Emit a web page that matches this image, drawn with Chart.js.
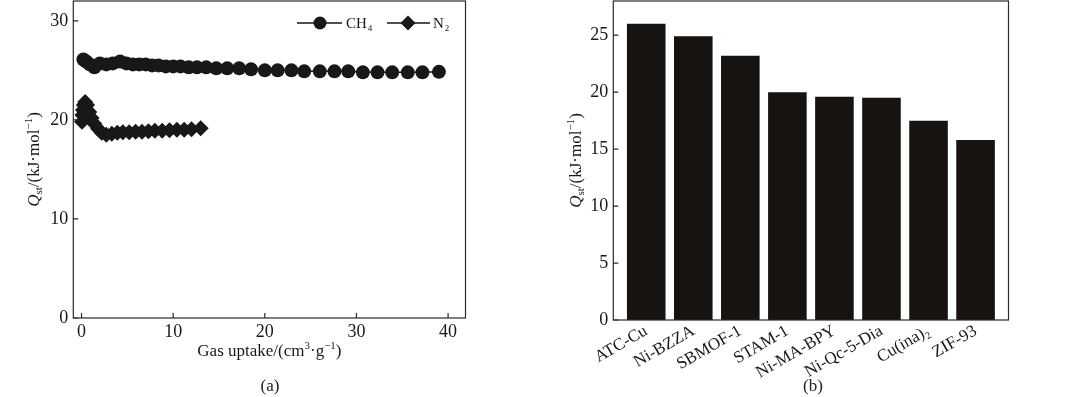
<!DOCTYPE html>
<html>
<head>
<meta charset="utf-8">
<script src="https://cdn.jsdelivr.net/npm/chart.js@4.4.0/dist/chart.umd.min.js"></script>
<style>
  body { margin: 0; background: #fff; }
  #wrap { position: relative; width: 1080px; height: 397px; overflow: hidden; }
  canvas { position: absolute; top: 0; }
  .cap { position: absolute; font: 17px 'Liberation Serif', 'Times New Roman', serif; color: #222; transform: translateX(-50%); }
</style>
</head>
<body>
<div id="wrap">
  <canvas id="chartA" width="540" height="397" style="left:0"></canvas>
  <canvas id="chartB" width="540" height="397" style="left:540px"></canvas>
  <div class="cap" style="left:270px; top:376px">(a)</div>
  <div class="cap" style="left:813px; top:376px">(b)</div>
</div>
<script>
// (a) isosteric heat vs gas uptake
const ch4X = [0.2, 0.5, 0.9, 1.4, 2.0, 2.7, 3.4, 4.2, 4.9, 5.6, 6.3, 7.0, 7.7, 8.4, 9.2, 10.0, 10.8, 11.7, 12.6, 13.6, 14.7, 15.9, 17.2, 18.5, 20.0, 21.4, 22.9, 24.3, 26.0, 27.6, 29.1, 30.7, 32.3, 33.9, 35.6, 37.2, 39.0];
const ch4Y = [26.1, 25.9, 25.6, 25.3, 25.7, 25.6, 25.7, 25.9, 25.7, 25.6, 25.6, 25.6, 25.5, 25.5, 25.4, 25.4, 25.4, 25.3, 25.3, 25.3, 25.2, 25.2, 25.2, 25.1, 25.0, 25.0, 25.0, 24.9, 24.9, 24.9, 24.9, 24.8, 24.8, 24.8, 24.8, 24.8, 24.85];
const n2X = [0.05, 0.1, 0.15, 0.25, 0.4, 0.6, 0.85, 1.1, 1.4, 1.8, 2.2, 2.7, 3.3, 3.9, 4.5, 5.2, 5.9, 6.6, 7.3, 8.0, 8.8, 9.6, 10.4, 11.2, 12.0, 13.0];
const n2Y = [19.8, 20.5, 21.0, 21.5, 21.8, 21.5, 20.8, 20.2, 19.6, 19.1, 18.7, 18.5, 18.6, 18.7, 18.75, 18.75, 18.8, 18.8, 18.85, 18.9, 18.9, 18.95, 19.0, 19.0, 19.05, 19.15];
const xTicksA = [0, 10, 20, 30, 40];
const yTicksA = [0, 10, 20, 30];

// (b) Qst of different MOFs
const mofs = ['ATC-Cu', 'Ni-BZZA', 'SBMOF-1', 'STAM-1', 'Ni-MA-BPY', 'Ni-Qc-5-Dia', 'Cu(ina)\u2082', 'ZIF-93'];
const qst = [26.0, 24.9, 23.2, 20.0, 19.6, 19.5, 17.5, 15.8];
const yTicksB = [0, 5, 10, 15, 20, 25];

const serif = "'Liberation Serif', 'Times New Roman', serif";
const ink = '#1a1816';

// draws text made of pieces: [text, kind] with kind '', 'i', 'sub', 'sup'
function drawRich(ctx, parts, size, x, y, angle) {
    const fontOf = k => (k === 'i' ? 'italic ' : '') + ((k === 'sub' || k === 'sup') ? Math.round(size * 0.62) : size) + 'px ' + serif;
    let total = 0;
    parts.forEach(([t, k]) => { ctx.font = fontOf(k); total += ctx.measureText(t).width; });
    ctx.save();
    ctx.translate(x, y);
    ctx.rotate(angle);
    ctx.fillStyle = ink;
    ctx.textAlign = 'left';
    ctx.textBaseline = 'alphabetic';
    let cx = -total / 2;
    parts.forEach(([t, k]) => {
        ctx.font = fontOf(k);
        const dy = k === 'sub' ? size * 0.22 : (k === 'sup' ? -size * 0.38 : 0);
        ctx.fillText(t, cx, dy + size * 0.33);
        cx += ctx.measureText(t).width;
    });
    ctx.restore();
}

const qstTitle = [['Q', 'i'], ['st', 'sub'], ['/(kJ\u00b7mol', ''], ['\u22121', 'sup'], [')', '']];

function framePlugin(cfg) {
    return {
        id: 'frame',
        afterDraw(chart) {
            const ctx = chart.ctx;
            const a = chart.chartArea;
            ctx.save();
            ctx.strokeStyle = '#2a2a2a';
            ctx.lineWidth = 1.2;
            ctx.strokeRect(a.left, a.top, a.right - a.left, a.bottom - a.top);
            // inward ticks
            ctx.beginPath();
            chart.scales.y.ticks.forEach(t => {
                const py = chart.scales.y.getPixelForValue(t.value);
                ctx.moveTo(a.left, py);
                ctx.lineTo(a.left + 5, py);
            });
            if (cfg.xTicks) {
                chart.scales.x.ticks.forEach(t => {
                    const px = chart.scales.x.getPixelForValue(t.value);
                    ctx.moveTo(px, a.bottom);
                    ctx.lineTo(px, a.bottom - 5);
                });
            }
            ctx.stroke();
            ctx.restore();
            drawRich(ctx, qstTitle, 17, cfg.yTitleX, (a.top + a.bottom) / 2, -Math.PI / 2);
            if (cfg.xTitle) drawRich(ctx, cfg.xTitle, 17, (a.left + a.right) / 2, 350, 0);
            if (cfg.legend) cfg.legend(ctx);
        }
    };
}

function drawLegendA(ctx) {
    ctx.save();
    ctx.strokeStyle = ink;
    ctx.fillStyle = ink;
    ctx.lineWidth = 1.5;
    const y = 23;
    ctx.beginPath();
    ctx.moveTo(297, y); ctx.lineTo(342, y);
    ctx.moveTo(387, y); ctx.lineTo(430, y);
    ctx.stroke();
    ctx.beginPath();
    ctx.arc(320, y, 6.5, 0, Math.PI * 2);
    ctx.fill();
    ctx.beginPath();
    ctx.moveTo(408, y - 7.5); ctx.lineTo(415.5, y); ctx.lineTo(408, y + 7.5); ctx.lineTo(400.5, y);
    ctx.closePath();
    ctx.fill();
    ctx.restore();
    ctx.save();
    ctx.fillStyle = ink;
    ctx.textBaseline = 'alphabetic';
    ctx.font = '15px ' + serif;
    ctx.fillText('CH', 346, 28);
    let w = ctx.measureText('CH').width;
    ctx.font = '9px ' + serif;
    ctx.fillText('4', 346 + w + 1, 31);
    ctx.font = '15px ' + serif;
    ctx.fillText('N', 433, 28);
    w = ctx.measureText('N').width;
    ctx.font = '9px ' + serif;
    ctx.fillText('2', 433 + w + 1, 31);
    ctx.restore();
}

// fixed scale sizes so the plot frames sit where the figure has them
function fixWidth(w) {
    return s => { s.width = w; s.paddingTop = 0; s.paddingBottom = 0; s.paddingLeft = 0; s.paddingRight = 0; };
}
function fixHeight(h) {
    return s => { s.height = h; s.paddingTop = 0; s.paddingBottom = 0; s.paddingLeft = 0; s.paddingRight = 0; };
}

Chart.defaults.font.family = serif;
Chart.defaults.color = ink;

new Chart(document.getElementById('chartA'), {
    type: 'scatter',
    data: {
        datasets: [
            {
                label: 'CH4',
                data: ch4X.map((x, i) => ({ x, y: ch4Y[i] })),
                showLine: true,
                borderColor: ink,
                borderWidth: 1.5,
                pointStyle: 'circle',
                pointRadius: 7,
                pointBackgroundColor: ink,
                pointBorderColor: ink,
                pointBorderWidth: 0
            },
            {
                label: 'N2',
                data: n2X.map((x, i) => ({ x, y: n2Y[i] })),
                showLine: true,
                borderColor: ink,
                borderWidth: 1.5,
                pointStyle: 'rectRot',
                pointRadius: 8,
                pointBackgroundColor: ink,
                pointBorderColor: ink,
                pointBorderWidth: 0
            }
        ]
    },
    options: {
        responsive: false,
        animation: false,
        devicePixelRatio: 1,
        layout: { autoPadding: false, padding: { left: 0, right: 74.5, top: 1, bottom: 0 } },
        plugins: { legend: { display: false }, tooltip: { enabled: false } },
        scales: {
            x: {
                type: 'linear', min: -0.9, max: 41.9,
                grid: { display: false, drawTicks: false }, border: { display: false },
                afterBuildTicks: s => { s.ticks = xTicksA.map(v => ({ value: v })); },
                afterFit: fixHeight(79),
                ticks: { font: { size: 18 }, padding: 3, maxRotation: 0, color: ink }
            },
            y: {
                min: 0, max: 32,
                grid: { display: false, drawTicks: false }, border: { display: false },
                afterBuildTicks: s => { s.ticks = yTicksA.map(v => ({ value: v })); },
                afterFit: fixWidth(73.3),
                ticks: { font: { size: 18 }, padding: 5, color: ink }
            }
        }
    },
    plugins: [framePlugin({
        xTicks: true,
        yTitleX: 33,
        xTitle: [['Gas uptake/(cm', ''], ['3', 'sup'], ['\u00b7g', ''], ['\u22121', 'sup'], [')', '']],
        legend: drawLegendA
    })]
});

new Chart(document.getElementById('chartB'), {
    type: 'bar',
    data: {
        datasets: [{
            label: 'Qst',
            data: mofs.map((m, i) => ({ x: i, y: qst[i] })),
            backgroundColor: '#161310',
            borderWidth: 0,
            barPercentage: 0.82,
            categoryPercentage: 1.0
        }]
    },
    options: {
        responsive: false,
        animation: false,
        devicePixelRatio: 1,
        layout: { autoPadding: false, padding: { left: 0, right: 71.5, top: 1, bottom: 0 } },
        plugins: { legend: { display: false }, tooltip: { enabled: false } },
        scales: {
            x: {
                type: 'linear', min: -0.7, max: 7.7, offset: false,
                grid: { display: false, drawTicks: false }, border: { display: false },
                afterBuildTicks: s => { s.ticks = mofs.map((m, i) => ({ value: i })); },
                afterFit: fixHeight(77),
                ticks: {
                    font: { size: 17 }, padding: 1, color: ink, autoSkip: false,
                    minRotation: 30, maxRotation: 30,
                    callback: v => mofs[v]
                }
            },
            y: {
                min: 0, max: 28,
                grid: { display: false, drawTicks: false }, border: { display: false },
                afterBuildTicks: s => { s.ticks = yTicksB.map(v => ({ value: v })); },
                afterFit: fixWidth(73.3),
                ticks: { font: { size: 18 }, padding: 5, color: ink }
            }
        }
    },
    plugins: [framePlugin({ xTicks: false, yTitleX: 35 })]
});
</script>
</body>
</html>
